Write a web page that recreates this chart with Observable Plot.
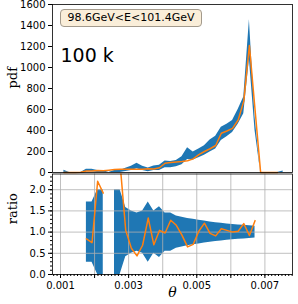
<!DOCTYPE html>
<html><head><meta charset="utf-8">
<script src="https://cdn.jsdelivr.net/npm/d3@7"></script>
<script src="https://cdn.jsdelivr.net/npm/@observablehq/plot@0.6"></script>
<style>
html,body{margin:0;padding:0;background:#fff;}
#wrap{position:relative;width:298px;height:304px;overflow:hidden;font-family:"DejaVu Sans",sans-serif;}
#top,#bot{position:absolute;left:0;}
#top{top:0;}
#bot{top:172px;}
#box{position:absolute;left:60px;top:9px;width:142px;height:18px;box-sizing:border-box;border:1px solid #a39a8c;border-radius:4px;background:#faeed9;font:11px "DejaVu Sans",sans-serif;color:#000;text-align:center;line-height:16px;}
</style></head><body>
<div id="wrap"><div id="top"></div><div id="bot"></div><div id="box">98.6GeV&lt;E&lt;101.4GeV</div></div>
<script>
// bin centres (theta) for the upper panel
const thetaTop = [0.0011, 0.001265, 0.00143, 0.001595, 0.00176, 0.001925, 0.00209, 0.002255, 0.00242, 0.002585,
  0.00275, 0.002915, 0.00308, 0.003245, 0.00341, 0.003575, 0.00374, 0.003905, 0.00407, 0.004235,
  0.0044, 0.004565, 0.00473, 0.004895, 0.00506, 0.005225, 0.00539, 0.005555, 0.00572, 0.005885,
  0.00605, 0.006215, 0.00638, 0.006545, 0.00671, 0.006875, 0.00704, 0.007205, 0.00737, 0.007535];
// reference band (lower / upper edge of pdf)
const refLo = [0, 0, 0, 0, 6, 6, 0, 0, 0, 0,
  0, 10, 20, 35, 20, 8, 20, 20, 45, 45,
  55, 75, 125, 120, 140, 165, 195, 225, 305, 340,
  380, 460, 560, 1080, 400, 0, 0, 0, 0, 0];
const refHi = [22, 0, 0, 0, 32, 32, 18, 18, 0, 18,
  18, 40, 60, 88, 60, 42, 62, 70, 110, 105,
  115, 150, 235, 195, 225, 255, 310, 345, 430, 460,
  495, 600, 720, 1455, 530, 0, 0, 0, 0, 15];
// model pdf (orange)
const modelPdf = [0, 0, 0, 2, 15, 14, 20, 17, 22, 28,
  30, 32, 32, 30, 32, 35, 33, 45, 88, 95,
  100, 105, 112, 130, 170, 200, 226, 257, 374, 395,
  420, 500, 680, 1210, 600, 0, 0, 0, 0, null];

// lower panel
const thetaRatio = [0.00176, 0.001925, 0.00209, 0.002255, 0.00242, 0.002585,
  0.00275, 0.002915, 0.00308, 0.003245, 0.00341, 0.003575, 0.00374, 0.003905, 0.00407, 0.004235,
  0.0044, 0.004565, 0.00473, 0.004895, 0.00506, 0.005225, 0.00539, 0.005555, 0.00572, 0.005885,
  0.00605, 0.006215, 0.00638, 0.006545, 0.00671];
const ratio = [0.84, 0.75, 2.2, 1.92, null, 3.0, 2.6, 1.04, 0.62, 0.44, 0.69, 1.33, 0.70, 1.04, 0.98, 1.28,
  1.16, 0.93, 0.65, 0.71, 1.02, 1.21, 0.97, 0.91, 1.08, 1.04, 1.0, 1.02, 1.2, 0.92, 1.27];
const ratioHi = [1.71, 1.71, 2.0, 2.0, null, 2.0, 2.0, 1.58, 1.5, 1.45, 1.5, 1.71, 1.5, 1.6, 1.45, 1.45,
  1.38, 1.35, 1.32, 1.3, 1.28, 1.26, 1.24, 1.22, 1.21, 1.19, 1.18, 1.17, 1.16, 1.15, 1.14];
const ratioLo = [0.29, 0.29, 0.0, 0.0, null, 0.0, 0.0, 0.42, 0.5, 0.55, 0.5, 0.29, 0.5, 0.4, 0.55, 0.55,
  0.62, 0.65, 0.68, 0.7, 0.72, 0.74, 0.76, 0.78, 0.79, 0.81, 0.82, 0.83, 0.84, 0.85, 0.86];

// ticks
const pdfTicks = [0, 200, 400, 600, 800, 1000, 1200, 1400, 1600];
const ratioTicks = [0.0, 0.5, 1.0, 1.5, 2.0];
const thetaTicks = [0.001, 0.002, 0.003, 0.004, 0.005, 0.006, 0.007];
const thetaTickLabels = ["0.001", "", "0.003", "", "0.005", "", "0.007"];

const xDomain = [0.000765, 0.00781];
const BLUE = "#1f77b4", ORANGE = "#ff7f0e";

const topRows = thetaTop.map((x, i) => ({x, lo: refLo[i], hi: refHi[i], m: modelPdf[i]}));
const ratioRows = thetaRatio.map((x, i) => ({x, r: ratio[i], lo: ratioLo[i], hi: ratioHi[i]}));

const style = {fontFamily: "DejaVu Sans", fontSize: "10px", color: "#000", background: "transparent", overflow: "visible"};

const topPlot = Plot.plot({
  width: 298, height: 174,
  marginLeft: 52, marginRight: 6, marginTop: 4, marginBottom: 2,
  x: {domain: xDomain, axis: null},
  y: {domain: [0, 1600], axis: null},
  style,
  marks: [
    Plot.areaY(topRows, {x: "x", y1: "lo", y2: "hi", fill: BLUE, curve: "linear"}),
    Plot.lineY(topRows, {x: "x", y: "m", stroke: ORANGE, strokeWidth: 1.5}),
    Plot.axisY({ticks: pdfTicks, tickSize: 4, tickPadding: 3, label: null, tickFormat: d => String(d)}),
    Plot.frame({stroke: "#000", strokeWidth: 0.8}),
    Plot.text(["100 k"], {text: d => d, frameAnchor: "top-left", dx: 8, dy: 57, fontSize: 19, textAnchor: "start", lineAnchor: "bottom"}),
    Plot.text(["pdf"], {text: d => d, frameAnchor: "left", dx: -40, rotate: -90, fontFamily: "DejaVu Serif", fontSize: 13})
  ]
});

const botPlot = Plot.plot({
  width: 298, height: 132,
  marginLeft: 52, marginRight: 6, marginTop: 1.5, marginBottom: 30,
  x: {domain: xDomain, axis: null},
  y: {domain: [0, 2.37], axis: null},
  style,
  marks: [
    Plot.areaY(ratioRows, {x: "x", y1: "lo", y2: "hi", fill: BLUE, curve: "linear"}),
    Plot.gridX({ticks: thetaTicks, stroke: "#b0b0b0", strokeOpacity: 1, strokeWidth: 0.8}),
    Plot.gridY({ticks: ratioTicks, stroke: "#b0b0b0", strokeOpacity: 1, strokeWidth: 0.8}),
    Plot.lineY(ratioRows, {x: "x", y: "r", stroke: ORANGE, strokeWidth: 1.5, clip: true}),
    Plot.axisY({ticks: ratioTicks, tickSize: 4, tickPadding: 3, label: null, tickFormat: d => d.toFixed(1)}),
    Plot.axisY({ticks: d3.range(1, 24).map(k => k / 10), tickSize: 2, label: null, tickFormat: () => ""}),
    Plot.axisX({ticks: thetaTicks, tickSize: 4, tickPadding: 3, label: null, tickFormat: (d, i) => thetaTickLabels[i]}),
    Plot.axisX({ticks: d3.range(8, 79).map(k => k / 10000), tickSize: 2, label: null, tickFormat: () => ""}),
    Plot.frame({stroke: "#000", strokeWidth: 0.8}),
    Plot.text(["ratio"], {text: d => d, frameAnchor: "left", dx: -40, rotate: -90, fontFamily: "DejaVu Serif", fontSize: 13}),
    Plot.text(["θ"], {text: d => d, frameAnchor: "bottom", dy: 22, fontFamily: "DejaVu Serif", fontStyle: "italic", fontSize: 14})
  ]
});

document.getElementById("top").appendChild(topPlot);
document.getElementById("bot").appendChild(botPlot);
</script>
</body></html>
